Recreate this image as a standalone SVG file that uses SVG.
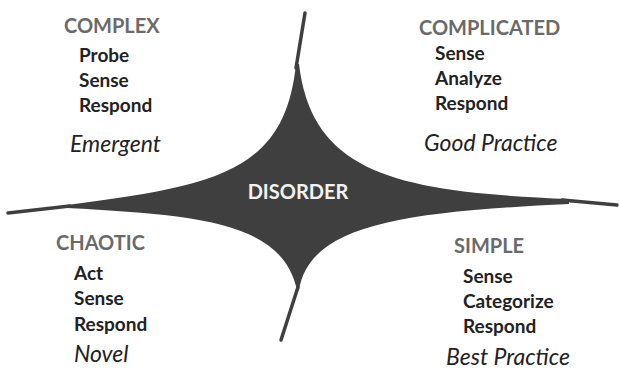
<svg xmlns="http://www.w3.org/2000/svg" width="619" height="371" viewBox="0 0 619 371">
<style>
.h{font-family:Lato,"Open Sans",sans-serif;font-weight:bold;font-size:20px;fill:#6a6a6a}
.a{font-family:Lato,"Open Sans",sans-serif;font-weight:bold;font-size:19px;fill:#222}
.i{font-family:Lato,"Open Sans",sans-serif;font-style:italic;font-size:23px;fill:#222}
.d{font-family:Lato,"Open Sans",sans-serif;font-weight:bold;font-size:20px;fill:#f2f2f2}
.spike{stroke:#3f3f3f;stroke-width:3.5;stroke-linecap:round;fill:none}
</style>
<g id="connectors">
<line class="spike" x1="305" y1="13" x2="296" y2="68"/>
<line class="spike" x1="8" y1="213" x2="70" y2="206"/>
<line class="spike" x1="281" y1="340" x2="298" y2="287"/>
<line class="spike" x1="617" y1="205" x2="562" y2="200"/>
</g>
<g id="disorder">
<path fill="#3f3f3f" d="M296,64 C285,170 220,186 67,205 L67,208 C200,215 282,222 297,290 L299,290 C310,225 400,212 569,204 L569,199 C400,192 312,175 299,64 Z"/>
<text class="d" x="298" y="199" text-anchor="middle">DISORDER</text>
</g>
<g id="complex">
<text class="h" x="64" y="33">COMPLEX</text>
<text class="a" x="79" y="62">Probe</text>
<text class="a" x="79" y="87">Sense</text>
<text class="a" x="79" y="112">Respond</text>
<text class="i" x="70" y="152">Emergent</text>
</g>
<g id="complicated">
<text class="h" x="419" y="35">COMPLICATED</text>
<text class="a" x="435" y="60">Sense</text>
<text class="a" x="435" y="85">Analyze</text>
<text class="a" x="435" y="110">Respond</text>
<text class="i" x="424" y="151">Good Practice</text>
</g>
<g id="chaotic">
<text class="h" x="56" y="250">CHAOTIC</text>
<text class="a" x="74" y="280">Act</text>
<text class="a" x="74" y="305">Sense</text>
<text class="a" x="74" y="331">Respond</text>
<text class="i" x="74" y="362">Novel</text>
</g>
<g id="simple">
<text class="h" x="454" y="253">SIMPLE</text>
<text class="a" x="463" y="283">Sense</text>
<text class="a" x="463" y="308">Categorize</text>
<text class="a" x="463" y="333">Respond</text>
<text class="i" x="446" y="365">Best Practice</text>
</g>
</svg>
